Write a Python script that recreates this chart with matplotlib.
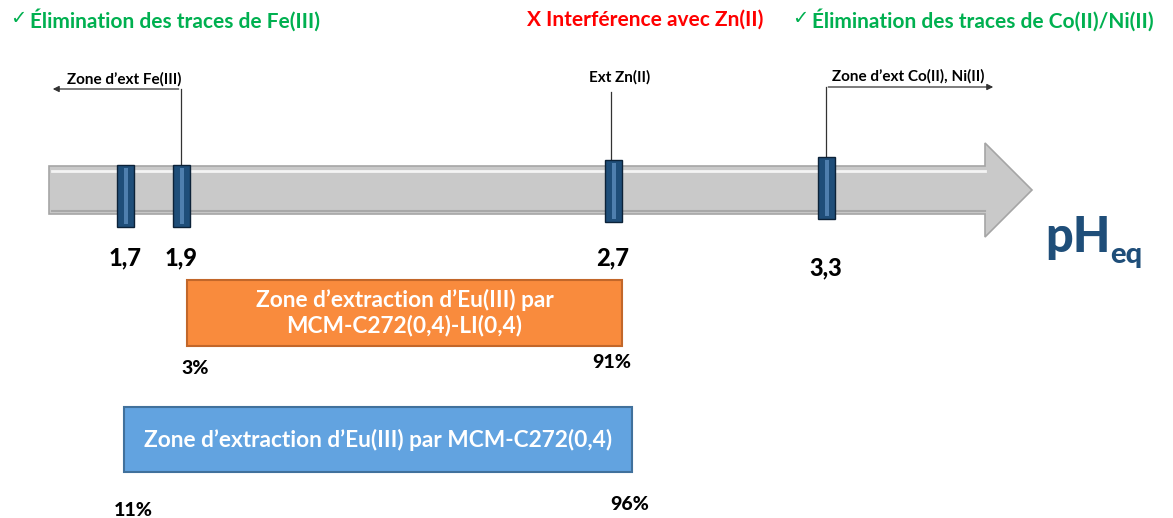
import matplotlib.pyplot as plt
from matplotlib.patches import Polygon, Rectangle

plt.rcParams['font.family'] = ['Lato', 'DejaVu Sans']

# valeurs de pH repérées sur l'axe
ph_values = [1.7, 1.9, 2.7, 3.3]
ph_labels = ['1,7', '1,9', '2,7', '3,3']

# bilans en haut de la figure
headers = ['Élimination des traces de Fe(III)', 'Interférence avec Zn(II)',
           'Élimination des traces de Co(II)/Ni(II)']
header_marks = ['✓', 'X', '✓']
header_ok = [True, False, True]

# zones d'extraction d'autres métaux
ext_labels = ['Zone d’ext Fe(III)', 'Ext Zn(II)', 'Zone d’ext Co(II), Ni(II)']

# zones d'extraction d'Eu(III)
eu_zones = ['Zone d’extraction d’Eu(III) par\nMCM-C272(0,4)-LI(0,4)',
            'Zone d’extraction d’Eu(III) par MCM-C272(0,4)']
eu_start = ['3%', '11%']
eu_end = ['91%', '96%']

# mise en page (schéma, pixels)
marker_x = [125, 181, 613, 826]
marker_top = [165, 165, 160, 157]
label_y = [258, 258, 258, 268]

fig = plt.figure(figsize=(11.73, 5.18), dpi=100)
ax = fig.add_axes([0, 0, 1, 1])
ax.set_xlim(0, 1173)
ax.set_ylim(518, 0)
ax.axis('off')

# flèche grise de l'axe pH
arrow = [(49, 166), (985, 166), (985, 143), (1032, 190), (985, 237), (985, 214), (49, 214)]
ax.add_patch(Polygon(arrow, closed=True, facecolor='#c9c9c9', edgecolor='#a5a5a5', lw=1.2, zorder=1))
ax.plot([52, 985], [171, 171], color='white', lw=2, alpha=0.8, zorder=2)
ax.plot([52, 985], [211, 211], color='#9a9a9a', lw=1.5, alpha=0.7, zorder=2)
ax.text(1045, 252, 'pH', fontsize=35, fontweight='black', color='#1f4e79', ha='left', va='baseline')
ax.text(1110, 263, 'eq', fontsize=21, fontweight='black', color='#1f4e79', ha='left', va='baseline')

# marqueurs de pH
for x, top, lab, ly in zip(marker_x, marker_top, ph_labels, label_y):
    ax.add_patch(Rectangle((x - 8.5, top), 17, 62, facecolor='#1f4e79', edgecolor='#0c2238', lw=1, zorder=3))
    ax.add_patch(Rectangle((x - 1, top + 3), 3.5, 56, facecolor='#4f7fae', edgecolor='none', zorder=4))
    ax.text(x, ly, lab, fontsize=17, fontweight='black', ha='center', va='center')

# renvois vers les zones d'extraction
ax.plot([181, 181], [165, 89], color='#333333', lw=0.9)
ax.annotate('', xy=(50, 89), xytext=(181.5, 89),
            arrowprops=dict(arrowstyle='-|>', color='#333333', lw=0.9, mutation_scale=9))
ax.text(67, 79, ext_labels[0], fontsize=11, fontweight='bold', ha='left', va='center')

ax.plot([611, 611], [160, 92], color='#333333', lw=0.9)
ax.text(620, 77, ext_labels[1], fontsize=11, fontweight='bold', ha='center', va='center')

ax.plot([826, 826], [157, 87], color='#333333', lw=0.9)
ax.annotate('', xy=(996, 87), xytext=(825.5, 87),
            arrowprops=dict(arrowstyle='-|>', color='#333333', lw=0.9, mutation_scale=9))
ax.text(832, 76, ext_labels[2], fontsize=11, fontweight='bold', ha='left', va='center')

# bilans
header_x = [10, 527, 792]
for x, mark, txt, ok in zip(header_x, header_marks, headers, header_ok):
    col = '#00b050' if ok else '#ff0000'
    if ok:
        ax.text(x, 19, mark, fontsize=14, color=col, ha='left', va='center', family='DejaVu Sans')
        ax.text(x + 20, 20, txt, fontsize=15, fontweight='bold', color=col, ha='left', va='center')
    else:
        ax.text(x, 20, mark + ' ' + txt, fontsize=15, fontweight='bold', color=col, ha='left', va='center')

# zones d'extraction de l'Eu(III)
boxes = [(187, 280, 435, 66), (124, 407, 508, 65)]
box_colors = [('#f98b3d', '#c2672a'), ('#62a3e0', '#41719c')]
start_pos = [(195, 368), (133, 510)]
end_pos = [(612, 362), (630, 505)]
for (bx, by, bw, bh), (fc, ec), txt, s, e, sp, ep in zip(boxes, box_colors, eu_zones, eu_start, eu_end,
                                                          start_pos, end_pos):
    ax.add_patch(Rectangle((bx, by), bw, bh, facecolor=fc, edgecolor=ec, lw=1.5, zorder=2))
    ax.text(bx + bw / 2, by + bh / 2, txt, fontsize=16.3, fontweight='bold', color='white',
            ha='center', va='center', linespacing=1.2, zorder=3)
    ax.text(sp[0], sp[1], s, fontsize=14, fontweight='black', ha='center', va='center')
    ax.text(ep[0], ep[1], e, fontsize=14, fontweight='black', ha='center', va='center')

fig.savefig('out.png', dpi=100)
